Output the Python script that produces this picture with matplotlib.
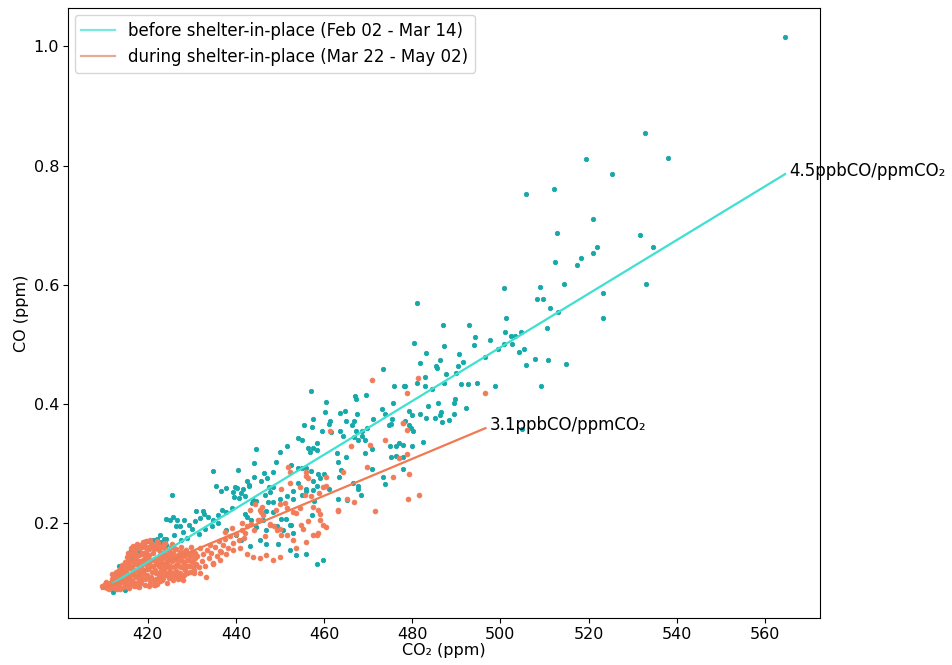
import numpy as np
import matplotlib
matplotlib.use("Agg")
import matplotlib.pyplot as plt
from matplotlib.lines import Line2D

# CO2 / CO pairs (ppm), before shelter-in-place
co2_before = [
    564.6, 532.8, 538.1, 519.5, 525.4, 505.8, 512.1, 521.1, 512.9, 531.7, 534.7, 522.0, 521.1, 518.2, 517.4, 512.4,
    533.0, 514.4, 500.9, 509.0, 508.3, 509.6, 523.3, 511.3, 513.0, 523.3, 510.6, 501.2, 501.1, 497.7, 502.5, 503.4,
    504.7, 500.7, 502.6, 499.4, 504.2, 505.3, 507.8, 510.9, 505.8, 514.9, 496.6, 504.9,
    481.1, 487.0, 492.8, 494.3, 480.3, 487.2, 494.1, 483.1, 490.7, 481.8, 486.4, 491.5, 485.4, 485.7, 490.3, 487.7,
    489.9, 482.8, 483.0, 481.1, 478.2, 491.0, 492.6, 494.7, 498.8, 484.5, 487.2, 509.1, 485.9, 489.7, 489.5, 492.2,
    483.6, 479.3, 480.0, 481.7, 486.6, 486.3, 489.4, 483.1, 485.2, 486.7, 488.3, 478.4, 473.3,
    457.1, 475.9, 478.4, 467.1, 469.6, 467.3, 460.4, 475.6, 473.2, 473.9, 464.7, 463.6, 460.1, 467.4,
    457.5, 461.3, 461.0, 455.4, 465.0, 466.7, 466.3, 471.1, 475.4, 475.1, 474.7, 479.3, 479.6, 480.2, 469.7, 467.3,
    468.7, 459.6, 461.6, 463.6, 457.3, 454.1, 455.0, 464.3, 466.8, 467.6, 468.5, 469.2, 470.8, 475.0, 476.2, 476.9,
    478.0, 479.9, 482.4, 456.4, 457.5, 458.4, 458.3, 456.8, 462.9, 465.0, 469.2, 475.2, 476.4, 477.9, 449.9, 451.6,
    444.6, 452.4, 449.0, 440.5, 454.0, 454.9, 456.0, 457.1, 458.5, 459.0, 459.9, 463.2, 463.9, 463.3, 466.6, 467.6,
    467.7, 473.3, 473.7, 477.8, 470.8, 448.5, 447.1, 444.2, 442.6, 441.5, 442.9, 439.7, 447.4, 448.4, 454.0, 455.8,
    457.4, 458.3, 461.0, 463.2, 465.2, 468.3, 439.5, 440.7, 443.6, 444.6, 452.9, 457.7, 446.9, 448.3, 442.1, 450.2,
    451.4, 457.2, 452.4,
    444.2, 434.8, 425.4, 435.5, 446.3, 445.7,
    424.1, 425.0, 425.7, 426.6, 426.3, 427.3, 428.2, 429.4, 430.7, 431.8, 432.7, 433.7, 432.5, 431.0, 434.8, 435.9,
    436.8, 437.8, 439.0, 436.6, 437.8, 439.3, 440.2, 441.2, 442.0, 443.0,
    420.7, 422.0, 418.2, 417.6, 415.9, 419.1, 422.7, 423.6, 424.2,
    443.9, 446.5, 447.7, 447.3, 448.4, 449.9, 451.5, 453.0, 454.9, 456.0, 457.5,
    442.4, 443.5, 444.6, 446.1, 446.9, 449.2, 450.7, 452.2, 453.0,
    437.8, 440.1, 441.2, 443.1, 445.4, 446.9, 449.5, 452.2, 453.7, 456.0, 458.3, 459.8,
    419.8, 421.2, 422.7, 424.2, 412.1, 414.8,
    426.0, 428.0, 430.0, 427.5, 429.0, 431.5, 433.0, 434.5, 436.0, 416.5, 413.5, 418.0,
]
co_before = [
    1.016, 0.854, 0.813, 0.811, 0.785, 0.753, 0.760, 0.711, 0.687, 0.683, 0.664, 0.663, 0.653, 0.645, 0.634, 0.638,
    0.601, 0.601, 0.595, 0.597, 0.576, 0.576, 0.586, 0.561, 0.555, 0.544, 0.527, 0.544, 0.520, 0.508, 0.514, 0.514,
    0.520, 0.501, 0.501, 0.493, 0.488, 0.493, 0.476, 0.474, 0.465, 0.467, 0.479, 0.358,
    0.569, 0.533, 0.533, 0.513, 0.503, 0.498, 0.499, 0.486, 0.484, 0.469, 0.473, 0.471, 0.463, 0.460, 0.463, 0.450,
    0.452, 0.445, 0.431, 0.435, 0.430, 0.434, 0.433, 0.436, 0.430, 0.425, 0.435, 0.430, 0.402, 0.409, 0.402, 0.393,
    0.396, 0.388, 0.381, 0.384, 0.386, 0.382, 0.384, 0.377, 0.377, 0.369, 0.373, 0.372, 0.459,
    0.422, 0.431, 0.430, 0.414, 0.415, 0.409, 0.403, 0.401, 0.392, 0.384, 0.389, 0.385, 0.386, 0.384,
    0.375, 0.372, 0.367, 0.364, 0.372, 0.371, 0.365, 0.374, 0.374, 0.367, 0.365, 0.365, 0.359, 0.354, 0.360, 0.354,
    0.354, 0.354, 0.353, 0.355, 0.361, 0.343, 0.339, 0.346, 0.345, 0.339, 0.346, 0.340, 0.325, 0.329, 0.329, 0.334,
    0.332, 0.330, 0.337, 0.327, 0.327, 0.334, 0.322, 0.319, 0.317, 0.311, 0.317, 0.311, 0.312, 0.311, 0.319, 0.330,
    0.325, 0.297, 0.302, 0.289, 0.293, 0.293, 0.293, 0.287, 0.283, 0.275, 0.283, 0.303, 0.289, 0.278, 0.267, 0.263,
    0.258, 0.277, 0.265, 0.291, 0.291, 0.286, 0.275, 0.277, 0.271, 0.258, 0.262, 0.260, 0.261, 0.260, 0.268, 0.258,
    0.270, 0.263, 0.258, 0.240, 0.239, 0.248, 0.244, 0.243, 0.234, 0.237, 0.241, 0.237, 0.221, 0.219, 0.216, 0.207,
    0.207, 0.213, 0.197,
    0.301, 0.287, 0.247, 0.262, 0.284, 0.270,
    0.207, 0.205, 0.210, 0.205, 0.195, 0.196, 0.205, 0.197, 0.203, 0.208, 0.215, 0.211, 0.221, 0.221, 0.205, 0.213,
    0.222, 0.219, 0.225, 0.254, 0.259, 0.253, 0.259, 0.251, 0.246, 0.264,
    0.169, 0.174, 0.161, 0.158, 0.152, 0.166, 0.180, 0.173, 0.163,
    0.239, 0.247, 0.252, 0.236, 0.236, 0.241, 0.245, 0.254, 0.247, 0.254, 0.256,
    0.211, 0.205, 0.194, 0.205, 0.188, 0.195, 0.188, 0.197, 0.183,
    0.188, 0.180, 0.171, 0.161, 0.171, 0.165, 0.165, 0.155, 0.146, 0.149, 0.132, 0.138,
    0.170, 0.172, 0.169, 0.174, 0.085, 0.088,
    0.180, 0.185, 0.190, 0.172, 0.175, 0.182, 0.190, 0.195, 0.200, 0.142, 0.128, 0.150,
]

# CO2 / CO pairs (ppm), during shelter-in-place
co2_during = [
    409.6, 410.0, 410.3, 410.7, 411.0, 410.5,
    411.3, 411.5, 411.8, 412.0, 412.2, 412.5, 412.7, 412.9, 412.4, 411.9,
    413.1, 413.3, 413.5, 413.7, 413.9, 414.1, 414.3, 414.5, 414.7, 414.9, 413.8, 414.4, 414.8,
    415.1, 415.2, 415.4, 415.6, 415.7, 415.9, 416.1, 416.2, 416.4, 416.6, 416.8, 416.9, 415.5, 416.3, 416.7, 415.8,
    417.1, 417.2, 417.4, 417.5, 417.7, 417.8, 418.0, 418.1, 418.3, 418.5, 418.6, 418.8, 418.9, 417.9, 418.4, 417.3, 418.7,
    419.1, 419.2, 419.4, 419.5, 419.7, 419.8, 420.0, 420.1, 420.3, 420.5, 420.6, 420.8, 420.9, 419.6, 420.4, 420.2, 419.9,
    421.1, 421.2, 421.4, 421.5, 421.7, 421.8, 422.0, 422.1, 422.3, 422.5, 422.6, 422.8, 422.9, 421.6, 422.4, 421.9,
    423.1, 423.2, 423.4, 423.5, 423.7, 423.9, 424.0, 424.2, 424.4, 424.5, 424.7, 424.9, 423.6, 424.3, 424.8,
    425.1, 425.2, 425.4, 425.6, 425.7, 425.9, 426.1, 426.2, 426.4, 426.6, 426.8, 426.9, 425.5, 426.3,
    427.1, 427.2, 427.4, 427.6, 427.8, 428.0, 428.2, 428.4, 428.6, 428.8, 427.5, 428.3,
    429.1, 429.3, 429.5, 429.8, 430.0, 430.3, 430.6, 430.9, 429.7, 430.4,
    431.2, 431.5, 431.9, 432.3, 432.6, 433.0, 433.4, 433.8, 434.3, 434.7,
    435.2, 435.6, 436.1, 436.5, 437.0, 437.6, 438.2, 438.7, 439.3, 440.0, 440.6, 441.3, 441.9,
    434.1, 436.3, 437.8, 439.3, 440.9, 442.4, 443.9, 445.4, 446.9, 448.4, 449.9,
    431.8, 433.3, 428.0, 426.9, 431.0, 434.8, 436.3,
    444.3, 445.4, 446.1, 443.1, 449.9, 451.5, 453.0, 454.5, 457.5,
    449.2, 450.3, 451.5, 453.0, 455.2, 457.5, 458.6, 460.5, 463.2, 453.7, 456.0, 458.3,
    451.8, 452.2, 456.0, 456.4, 454.5, 455.6, 458.8, 459.8,
    470.9, 478.7, 461.4, 477.9, 478.7, 473.7, 466.0, 470.3, 477.1, 478.8, 469.8, 475.6, 479.3,
    456.0, 460.5, 464.3, 450.3, 452.3, 460.4, 457.0, 451.1, 465.1, 466.8, 479.0, 481.5, 463.2, 471.6,
    458.6, 459.1, 445.9, 445.6, 453.7, 449.1, 456.3, 459.0, 459.8, 454.7, 447.7, 448.6, 441.4, 442.5,
    443.3, 445.0, 481.4, 496.6, 478.0,
    445.4, 447.7, 449.9, 437.5, 439.0, 442.0, 444.0, 446.5,
    # dense core
    410.2, 410.9, 411.4, 411.7, 412.1, 412.6, 412.3,
    412.8, 413.0, 413.2, 413.4, 413.6, 414.0, 414.2, 414.6, 413.9,
    414.5, 415.0, 415.3, 415.3, 415.7, 416.0, 416.0, 416.5, 415.9,
    416.7, 417.0, 417.0, 417.3, 417.6, 417.6, 417.9, 418.2, 418.2, 418.4, 418.0,
    418.7, 418.9, 419.0, 419.3, 419.3, 419.6, 419.9, 419.9, 419.4,
    420.2, 420.3, 420.6, 420.7, 420.7, 421.0, 421.3, 421.3, 421.6, 421.9, 421.9,
    422.2, 422.2, 422.5, 422.7, 422.7, 423.0, 423.0, 423.3, 423.6, 423.8, 423.8, 423.4,
    424.1, 424.6, 424.6, 425.0, 425.0, 425.3, 425.3, 425.8, 425.8, 425.9,
    426.2, 426.5, 426.7, 427.0, 427.3, 427.3, 427.7, 427.9, 428.1,
    428.5, 428.7, 428.9, 429.2, 429.6, 429.9, 430.2, 430.7, 430.5,
]
co_during = [
    0.095, 0.093, 0.098, 0.092, 0.097, 0.101,
    0.090, 0.100, 0.106, 0.094, 0.112, 0.099, 0.118, 0.089, 0.105, 0.115,
    0.095, 0.108, 0.122, 0.090, 0.114, 0.130, 0.101, 0.093, 0.120, 0.135, 0.102, 0.111, 0.126,
    0.098, 0.143, 0.112, 0.150, 0.091, 0.125, 0.158, 0.104, 0.137, 0.117, 0.145, 0.095, 0.132, 0.128, 0.162, 0.108,
    0.122, 0.152, 0.100, 0.165, 0.133, 0.112, 0.146, 0.093, 0.158, 0.126, 0.106, 0.168, 0.139, 0.118, 0.099, 0.140, 0.150,
    0.115, 0.160, 0.097, 0.131, 0.170, 0.145, 0.108, 0.124, 0.156, 0.139, 0.101, 0.166, 0.118, 0.152, 0.172, 0.094, 0.135,
    0.150, 0.128, 0.105, 0.163, 0.140, 0.117, 0.170, 0.098, 0.133, 0.155, 0.110, 0.146, 0.124, 0.096, 0.166, 0.159,
    0.138, 0.104, 0.160, 0.121, 0.149, 0.113, 0.167, 0.131, 0.100, 0.155, 0.126, 0.143, 0.165, 0.117, 0.108,
    0.119, 0.160, 0.137, 0.104, 0.150, 0.126, 0.143, 0.112, 0.156, 0.131, 0.107, 0.147, 0.165, 0.120,
    0.138, 0.117, 0.152, 0.127, 0.110, 0.145, 0.133, 0.121, 0.155, 0.139, 0.160, 0.113,
    0.128, 0.146, 0.118, 0.136, 0.152, 0.126, 0.141, 0.131, 0.160, 0.117,
    0.145, 0.126, 0.158, 0.137, 0.148, 0.129, 0.155, 0.141, 0.150, 0.134,
    0.160, 0.145, 0.170, 0.152, 0.163, 0.174, 0.158, 0.178, 0.166, 0.182, 0.171, 0.188, 0.176,
    0.163, 0.154, 0.149, 0.155, 0.158, 0.149, 0.144, 0.141, 0.146, 0.138, 0.144,
    0.116, 0.110, 0.104, 0.110, 0.130, 0.132, 0.138,
    0.233, 0.222, 0.213, 0.222, 0.233, 0.225, 0.219, 0.225, 0.227,
    0.188, 0.180, 0.180, 0.171, 0.191, 0.180, 0.183, 0.194, 0.222, 0.158, 0.169, 0.180,
    0.294, 0.286, 0.286, 0.275, 0.261, 0.248, 0.250, 0.261,
    0.441, 0.418, 0.354, 0.368, 0.356, 0.339, 0.329, 0.331, 0.310, 0.316, 0.294, 0.278, 0.283,
    0.280, 0.277, 0.286, 0.258, 0.267, 0.263, 0.246, 0.234, 0.240, 0.236, 0.241, 0.247, 0.221, 0.221,
    0.222, 0.216, 0.228, 0.219, 0.217, 0.222, 0.204, 0.205, 0.197, 0.197, 0.198, 0.195, 0.201, 0.195,
    0.198, 0.205, 0.443, 0.418, 0.368,
    0.205, 0.197, 0.191, 0.185, 0.192, 0.183, 0.188, 0.178,
    # dense core
    0.096, 0.094, 0.096, 0.093, 0.101, 0.108, 0.092,
    0.113, 0.102, 0.117, 0.096, 0.112, 0.107, 0.121, 0.114, 0.125,
    0.128, 0.119, 0.104, 0.127, 0.139, 0.098, 0.113, 0.151, 0.145,
    0.101, 0.110, 0.132, 0.158, 0.146, 0.094, 0.126, 0.137, 0.111, 0.163, 0.104,
    0.131, 0.120, 0.148, 0.141, 0.106, 0.123, 0.160, 0.113, 0.168,
    0.146, 0.131, 0.160, 0.128, 0.110, 0.138, 0.097, 0.157, 0.122, 0.133, 0.106,
    0.142, 0.117, 0.128, 0.160, 0.103, 0.150, 0.114, 0.131, 0.142, 0.125, 0.157, 0.108,
    0.146, 0.136, 0.113, 0.152, 0.128, 0.110, 0.145, 0.139, 0.117, 0.158,
    0.128, 0.140, 0.118, 0.128, 0.145, 0.108, 0.136, 0.152, 0.125,
    0.146, 0.128, 0.117, 0.138, 0.128, 0.145, 0.135, 0.150, 0.122,
]

# fitted slopes (ppb CO per ppm CO2) and intercepts (ppm)
slope_before, icpt_before = 4.5, -1.755
slope_during, icpt_during = 3.1, -1.180

fig = plt.figure(figsize=(9.53, 6.65), dpi=100)
ax = fig.add_axes([0.0714, 0.0707, 0.789, 0.917])

ax.scatter(co2_before, co_before, s=10, color='#17a8aa', linewidths=0.6, zorder=2)
ax.scatter(co2_during, co_during, s=11, color='#f27c5a', linewidths=0.7, zorder=3)

xb = np.array([min(co2_before), max(co2_before)])
xd = np.array([min(co2_during), max(co2_during)])
yb = slope_before / 1000 * xb + icpt_before
yd = slope_during / 1000 * xd + icpt_during
ax.plot(xb, yb, color='#40e0d0', lw=1.6, zorder=4)
ax.plot(xd, yd, color='#f07a52', lw=1.6, zorder=4)

ax.annotate('%.1fppbCO/ppmCO₂' % slope_before, (xb[1], yb[1]), xytext=(3, 2),
            textcoords='offset points', va='center', fontsize=12, annotation_clip=False)
ax.annotate('%.1fppbCO/ppmCO₂' % slope_during, (xd[1], yd[1]), xytext=(3, 2),
            textcoords='offset points', va='center', fontsize=12, annotation_clip=False)

handles = [Line2D([], [], color='#40e0d0', lw=1.6, alpha=0.7),
           Line2D([], [], color='#d9896a', lw=1.6, alpha=0.7)]
ax.legend(handles, ['before shelter-in-place (Feb 02 - Mar 14)',
                    'during shelter-in-place (Mar 22 - May 02)'],
          loc='upper left', fontsize=12, borderaxespad=0.4)

ax.set_xlim(401.9, 572.5)
ax.set_ylim(0.041, 1.064)
ax.set_xticks([420, 440, 460, 480, 500, 520, 540, 560])
ax.set_yticks([0.2, 0.4, 0.6, 0.8, 1.0])
ax.tick_params(labelsize=11.5, pad=3)
ax.set_xlabel('CO₂ (ppm)', fontsize=11.5, labelpad=1)
ax.set_ylabel('CO (ppm)', fontsize=11.5, labelpad=3)

fig.savefig('out.png', dpi=100)
